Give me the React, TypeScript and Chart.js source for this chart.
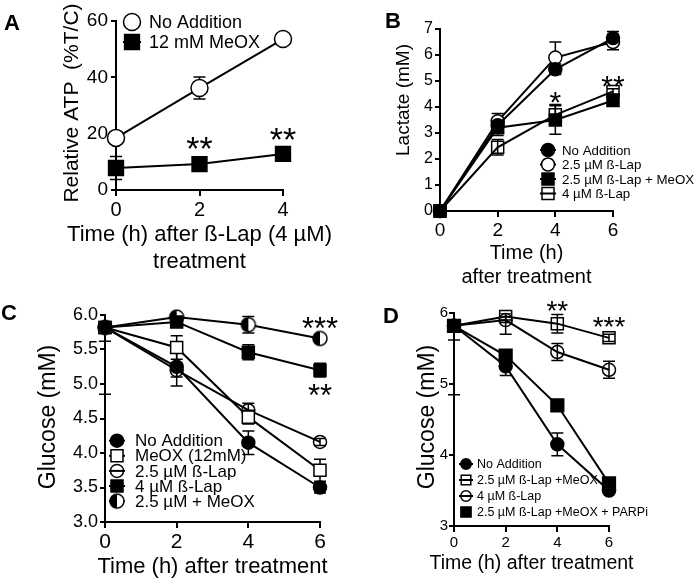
import React, { useEffect, useRef } from 'react';
import { Chart, registerables } from 'chart.js';

Chart.register(...registerables);

const FONT = "'Liberation Sans', Arial, Helvetica, sans-serif";

// ---------- Panel A : Relative ATP ----------
const A_TIME = [0, 2, 4];
const A_NOADD = [18.5, 36.2, 53.6];
const A_NOADD_ERR = [0, 3.9, 0];
const A_MEOX = [7.8, 9.2, 12.8];
const A_MEOX_ERR = [4.1, 0, 0];

// ---------- Panel B : Lactate ----------
const B_TIME = [0, 2, 4, 6];
const B_NOADD = [0, 3.3, 5.45, 6.65];
const B_NOADD_ERR = [0, 0.3, 0.2, 0.25];
const B_LAP25 = [0, 3.45, 5.9, 6.5];
const B_LAP25_ERR = [0, 0.3, 0.6, 0.3];
const B_LAP25_MEOX = [0, 3.2, 3.5, 4.25];
const B_LAP25_MEOX_ERR = [0, 0.3, 0.55, 0.15];
const B_LAP4 = [0, 2.45, 3.7, 4.6];
const B_LAP4_ERR = [0, 0.3, 0.4, 0.1];

// ---------- Panel C : Glucose ----------
const C_TIME = [0, 2, 4, 6];
const C_NOADD = [5.82, 5.25, 4.15, 3.5];
const C_NOADD_ERR = [0.2, 0.28, 0.17, 0.08];
const C_MEOX = [5.82, 5.53, 4.52, 3.75];
const C_MEOX_ERR = [0.97, 0.17, 0.1, 0.16];
const C_LAP25 = [5.82, 5.2, 4.62, 4.16];
const C_LAP25_ERR = [0.05, 0.1, 0.1, 0.05];
const C_LAP4 = [5.82, 5.9, 5.46, 5.2];
const C_LAP4_ERR = [0.05, 0.05, 0.11, 0.1];
const C_LAP25_MEOX = [5.82, 5.97, 5.86, 5.66];
const C_LAP25_MEOX_ERR = [0.05, 0.05, 0.12, 0.04];

// ---------- Panel D : Glucose ----------
const D_TIME = [0, 2, 4, 6];
const D_NOADD = [5.82, 5.25, 4.15, 3.5];
const D_NOADD_ERR = [0.2, 0.13, 0.16, 0.05];
const D_LAP25_MEOX = [5.82, 5.95, 5.85, 5.65];
const D_LAP25_MEOX_ERR = [0.97, 0.05, 0.13, 0.05];
const D_LAP4 = [5.82, 5.9, 5.45, 5.2];
const D_LAP4_ERR = [0.05, 0.2, 0.12, 0.12];
const D_PARPI = [5.82, 5.4, 4.7, 3.6];
const D_PARPI_ERR = [0, 0.03, 0.03, 0.03];

type Series = {
  label: string;
  data: number[];
  err: number[];
  style: 'circle' | 'rect' | 'half';
  fill: string;
  radius: number;
  order?: number;
  legendLine?: boolean;
};
type Note = { x: number; y: number; text: string; size: number };
type Spec = {
  box: [number, number, number, number];
  padTop: number;
  padRight: number;
  yWidth: number;
  xHeight: number;
  xs: number[];
  xMax: number;
  xStep: number;
  yMin: number;
  yMax: number;
  yStep: number;
  yDecimals: number;
  xTickSize: number;
  yTickSize: number;
  yTickPad: number;
  yTitle: string;
  yTitleSize: number;
  yTitlePos: { x: number; y: number };
  xTitle: string[];
  xTitleSize: number;
  xTitleY: number;
  xTitleLine: number;
  series: Series[];
  notes: Note[];
  letter: { text: string; x: number; y: number; size: number };
  legend: { x: number; y: number; dy: number; textX: number; size: number; half: number; scale: number };
};

const WHITE = '#ffffff';
const BLACK = '#000000';
const NONE = 'rgba(0,0,0,0)';

const SPEC_A: Spec = {
  box: [0, 0, 350, 290],
  padTop: 21, padRight: 67, yWidth: 116, xHeight: 100,
  xs: A_TIME, xMax: 4, xStep: 2,
  yMin: 0, yMax: 60, yStep: 20, yDecimals: 0,
  xTickSize: 20, yTickSize: 19, yTickPad: 3,
  yTitle: 'Relative ATP  (%T/C)', yTitleSize: 21, yTitlePos: { x: 72, y: 103 },
  xTitle: ['Time (h) after ß-Lap (4 µM)', 'treatment'], xTitleSize: 22, xTitleY: 235, xTitleLine: 27,
  series: [
    { label: 'No Addition', data: A_NOADD, err: A_NOADD_ERR, style: 'circle', fill: WHITE, radius: 8.5 },
    { label: '12 mM MeOX', data: A_MEOX, err: A_MEOX_ERR, style: 'rect', fill: BLACK, radius: 10.5 },
  ],
  notes: [
    { x: 2, y: 17.5, text: '**', size: 34 },
    { x: 4, y: 20.7, text: '**', size: 34 },
  ],
  letter: { text: 'A', x: 4, y: 30, size: 22 },
  legend: { x: 132, y: 22, dy: 20, textX: 149, size: 18, half: 9, scale: 1 },
};

const SPEC_B: Spec = {
  box: [350, 0, 347, 290],
  padTop: 29, padRight: 84, yWidth: 90, xHeight: 79,
  xs: B_TIME, xMax: 6, xStep: 2,
  yMin: 0, yMax: 7, yStep: 1, yDecimals: 0,
  xTickSize: 19, yTickSize: 16, yTickPad: 2,
  yTitle: 'Lactate (mM)', yTitleSize: 19, yTitlePos: { x: 53.5, y: 100 },
  xTitle: ['Time (h)', 'after treatment'], xTitleSize: 20, xTitleY: 253, xTitleLine: 24,
  series: [
    { label: 'No Addition', data: B_NOADD, err: B_NOADD_ERR, style: 'circle', fill: BLACK, radius: 6.5 },
    { label: '2.5 µM ß-Lap', data: B_LAP25, err: B_LAP25_ERR, style: 'circle', fill: WHITE, radius: 6.5 },
    { label: '2.5 µM ß-Lap + MeOX', data: B_LAP25_MEOX, err: B_LAP25_MEOX_ERR, style: 'rect', fill: BLACK, radius: 8.5, order: -1 },
    { label: '4 µM ß-Lap', data: B_LAP4, err: B_LAP4_ERR, style: 'rect', fill: NONE, radius: 8.5 },
  ],
  notes: [
    { x: 4, y: 4.46, text: '*', size: 30 },
    { x: 6, y: 5.1, text: '**', size: 30 },
  ],
  letter: { text: 'B', x: 35, y: 28, size: 22 },
  legend: { x: 198, y: 150, dy: 14.5, textX: 212, size: 13.3, half: 8, scale: 1 },
};

const SPEC_C: Spec = {
  box: [0, 290, 350, 293],
  padTop: 25, padRight: 30, yWidth: 105, xHeight: 61,
  xs: C_TIME, xMax: 6, xStep: 2,
  yMin: 3, yMax: 6, yStep: 0.5, yDecimals: 1,
  xTickSize: 21, yTickSize: 18, yTickPad: 2,
  yTitle: 'Glucose (mM)', yTitleSize: 23, yTitlePos: { x: 49, y: 127 },
  xTitle: ['Time (h) after treatment'], xTitleSize: 22, xTitleY: 277, xTitleLine: 26,
  series: [
    { label: 'No Addition', data: C_NOADD, err: C_NOADD_ERR, style: 'circle', fill: BLACK, radius: 6.5 },
    { label: 'MeOX (12mM)', data: C_MEOX, err: C_MEOX_ERR, style: 'rect', fill: WHITE, radius: 8.5 },
    { label: '2.5 µM ß-Lap', data: C_LAP25, err: C_LAP25_ERR, style: 'circle', fill: NONE, radius: 6.5 },
    { label: '4 µM ß-Lap', data: C_LAP4, err: C_LAP4_ERR, style: 'rect', fill: BLACK, radius: 8.5 },
    { label: '2.5 µM + MeOX', data: C_LAP25_MEOX, err: C_LAP25_MEOX_ERR, style: 'half', fill: WHITE, radius: 7 },
  ],
  notes: [
    { x: 6, y: 5.91, text: '***', size: 31 },
    { x: 6, y: 4.94, text: '**', size: 31 },
  ],
  letter: { text: 'C', x: 1, y: 30, size: 22 },
  legend: { x: 117, y: 150.7, dy: 15.1, textX: 135, size: 17, half: 8, scale: 1 },
};

const SPEC_D: Spec = {
  box: [350, 290, 347, 293],
  padTop: 23, padRight: 88, yWidth: 104, xHeight: 57,
  xs: D_TIME, xMax: 6, xStep: 2,
  yMin: 3, yMax: 6, yStep: 1, yDecimals: 0,
  xTickSize: 15, yTickSize: 15, yTickPad: 1,
  yTitle: 'Glucose (mM)', yTitleSize: 23, yTitlePos: { x: 78, y: 127 },
  xTitle: ['Time (h) after treatment'], xTitleSize: 19.5, xTitleY: 274, xTitleLine: 23,
  series: [
    { label: 'No Addition', data: D_NOADD, err: D_NOADD_ERR, style: 'circle', fill: BLACK, radius: 6.5 },
    { label: '2.5 µM ß-Lap +MeOX', data: D_LAP25_MEOX, err: D_LAP25_MEOX_ERR, style: 'rect', fill: NONE, radius: 8.5 },
    { label: '4 µM ß-Lap', data: D_LAP4, err: D_LAP4_ERR, style: 'circle', fill: NONE, radius: 6.5 },
    { label: '2.5 µM ß-Lap +MeOX + PARPi', data: D_PARPI, err: D_PARPI_ERR, style: 'rect', fill: BLACK, radius: 9, order: -1, legendLine: false },
  ],
  notes: [
    { x: 4, y: 6.13, text: '**', size: 28 },
    { x: 6, y: 5.9, text: '***', size: 28 },
  ],
  letter: { text: 'D', x: 33, y: 33, size: 22 },
  legend: { x: 116, y: 174, dy: 16, textX: 127, size: 12.5, half: 7, scale: 0.8 },
};

function makeHalf(r: number): HTMLCanvasElement {
  const s = Math.ceil(2 * r + 4);
  const c = document.createElement('canvas');
  c.width = s;
  c.height = s;
  const g = c.getContext('2d')!;
  const m = s / 2;
  g.beginPath();
  g.arc(m, m, r, 0, Math.PI * 2);
  g.fillStyle = '#fff';
  g.fill();
  g.beginPath();
  g.moveTo(m, m - r);
  g.arc(m, m, r, -Math.PI / 2, Math.PI / 2, true);
  g.closePath();
  g.fillStyle = '#000';
  g.fill();
  g.beginPath();
  g.arc(m, m, r, 0, Math.PI * 2);
  g.lineWidth = 1.5;
  g.strokeStyle = '#000';
  g.stroke();
  return c;
}

function drawMarker(ctx: CanvasRenderingContext2D, s: Series, x: number, y: number, r: number) {
  if (s.style === 'half') {
    const img = makeHalf(r);
    ctx.drawImage(img, x - img.width / 2, y - img.height / 2);
    return;
  }
  ctx.beginPath();
  if (s.style === 'circle') {
    ctx.arc(x, y, r, 0, Math.PI * 2);
  } else {
    const h = r * Math.SQRT1_2;
    ctx.rect(x - h, y - h, 2 * h, 2 * h);
  }
  if (s.fill !== NONE) {
    ctx.fillStyle = s.fill;
    ctx.fill();
  }
  ctx.lineWidth = 1.5;
  ctx.strokeStyle = '#000';
  ctx.stroke();
}

function buildConfig(spec: Spec): any {
  const deco = {
    id: 'deco',
    beforeDatasetsDraw(chart: any) {
      const { ctx, chartArea: a } = chart;
      const xs = chart.scales.x;
      const ys = chart.scales.y;
      ctx.save();
      ctx.beginPath();
      ctx.rect(0, a.top, chart.width, a.bottom - a.top + 14);
      ctx.clip();
      ctx.strokeStyle = '#000';
      ctx.lineWidth = 1.5;
      spec.series.forEach((s) => {
        s.err.forEach((e, j) => {
          if (!e) return;
          const x = xs.getPixelForValue(spec.xs[j]);
          const y1 = ys.getPixelForValue(s.data[j] + e);
          const y2 = ys.getPixelForValue(s.data[j] - e);
          ctx.beginPath();
          ctx.moveTo(x, y1);
          ctx.lineTo(x, y2);
          ctx.moveTo(x - 6, y1);
          ctx.lineTo(x + 6, y1);
          ctx.moveTo(x - 6, y2);
          ctx.lineTo(x + 6, y2);
          ctx.stroke();
        });
      });
      ctx.restore();
    },
    afterDraw(chart: any) {
      const { ctx, chartArea: a } = chart;
      const xs = chart.scales.x;
      const ys = chart.scales.y;
      ctx.save();
      ctx.fillStyle = '#000';
      // significance marks
      spec.notes.forEach((n) => {
        ctx.font = `${n.size}px ${FONT}`;
        ctx.textAlign = 'center';
        ctx.textBaseline = 'alphabetic';
        ctx.fillText(n.text, xs.getPixelForValue(n.x), ys.getPixelForValue(n.y) + 0.58 * n.size);
      });
      // x axis title
      ctx.font = `${spec.xTitleSize}px ${FONT}`;
      ctx.textAlign = 'center';
      ctx.textBaseline = 'middle';
      spec.xTitle.forEach((line, i) => {
        ctx.fillText(line, (a.left + a.right) / 2, spec.xTitleY + i * spec.xTitleLine);
      });
      // legend
      const lg = spec.legend;
      spec.series.forEach((s, i) => {
        const y = lg.y + i * lg.dy;
        if (s.legendLine !== false) {
          ctx.beginPath();
          ctx.moveTo(lg.x - lg.half, y);
          ctx.lineTo(lg.x + lg.half, y);
          ctx.lineWidth = 2;
          ctx.strokeStyle = '#000';
          ctx.stroke();
        }
        drawMarker(ctx, s, lg.x, y, s.radius * lg.scale);
        ctx.fillStyle = '#000';
        ctx.font = `${lg.size}px ${FONT}`;
        ctx.textAlign = 'left';
        ctx.textBaseline = 'middle';
        ctx.fillText(s.label, lg.textX, y + 1);
      });
      // panel letter
      ctx.font = `bold ${spec.letter.size}px ${FONT}`;
      ctx.textAlign = 'left';
      ctx.textBaseline = 'alphabetic';
      ctx.fillText(spec.letter.text, spec.letter.x, spec.letter.y);
      // y axis title
      ctx.translate(spec.yTitlePos.x, spec.yTitlePos.y);
      ctx.rotate(-Math.PI / 2);
      ctx.font = `${spec.yTitleSize}px ${FONT}`;
      ctx.textAlign = 'center';
      ctx.textBaseline = 'middle';
      ctx.fillText(spec.yTitle, 0, 0);
      ctx.restore();
    },
  };

  const datasets = spec.series.map((s) => ({
    label: s.label,
    data: spec.xs.map((x, i) => ({ x, y: s.data[i] })),
    borderColor: '#000',
    borderWidth: 2,
    pointStyle: s.style === 'half' ? makeHalf(s.radius) : s.style,
    pointRadius: s.radius,
    pointHoverRadius: s.radius,
    pointBackgroundColor: s.fill,
    pointBorderColor: '#000',
    pointBorderWidth: 1.5,
    showLine: true,
    tension: 0,
    fill: false,
    clip: false,
    order: s.order ?? 0,
  }));

  const grid = {
    display: true,
    drawOnChartArea: false,
    drawTicks: true,
    tickLength: 6,
    color: '#000',
    lineWidth: 2,
  };

  return {
    type: 'line',
    data: { datasets },
    options: {
      animation: false,
      responsive: false,
      devicePixelRatio: 1,
      events: [],
      layout: { padding: { top: spec.padTop, right: spec.padRight, left: 0, bottom: 0 } },
      plugins: { legend: { display: false }, tooltip: { enabled: false } },
      scales: {
        x: {
          type: 'linear',
          min: 0,
          max: spec.xMax,
          ticks: {
            stepSize: spec.xStep,
            color: '#000',
            font: { family: FONT, size: spec.xTickSize },
            padding: 2,
            maxRotation: 0,
            autoSkip: false,
          },
          grid,
          border: { display: true, color: '#000', width: 2 },
          title: { display: false },
          afterFit: (sc: any) => {
            sc.height = spec.xHeight;
          },
        },
        y: {
          type: 'linear',
          min: spec.yMin,
          max: spec.yMax,
          ticks: {
            stepSize: spec.yStep,
            color: '#000',
            font: { family: FONT, size: spec.yTickSize },
            padding: spec.yTickPad,
            autoSkip: false,
            callback: (v: any) => Number(v).toFixed(spec.yDecimals),
          },
          grid: { ...grid, tickLength: 5 },
          border: { display: true, color: '#000', width: 2 },
          title: { display: false },
          afterFit: (sc: any) => {
            sc.width = spec.yWidth;
          },
        },
      },
    },
    plugins: [deco],
  };
}

function Panel({ spec }: { spec: Spec }) {
  const ref = useRef<HTMLCanvasElement>(null);
  useEffect(() => {
    const chart = new Chart(ref.current as HTMLCanvasElement, buildConfig(spec));
    return () => chart.destroy();
  }, [spec]);
  const [l, t, w, h] = spec.box;
  return (
    <div style={{ position: 'absolute', left: l, top: t, width: w, height: h }}>
      <canvas ref={ref} width={w} height={h} style={{ width: w, height: h, display: 'block' }} />
    </div>
  );
}

export default function App() {
  return (
    <div style={{ position: 'absolute', left: 0, top: 0, width: 697, height: 583, background: '#fff', overflow: 'hidden' }}>
      <Panel spec={SPEC_A} />
      <Panel spec={SPEC_B} />
      <Panel spec={SPEC_C} />
      <Panel spec={SPEC_D} />
    </div>
  );
}
